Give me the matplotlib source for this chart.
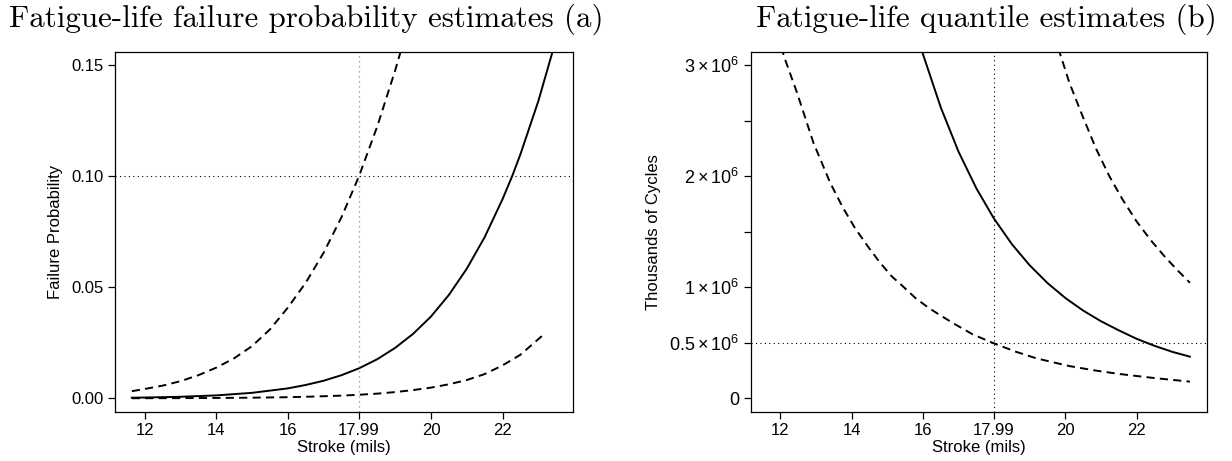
import matplotlib
matplotlib.use("Agg")
from matplotlib import pyplot as plt
import numpy as np

plt.rcParams['font.family'] = ['Liberation Sans', 'DejaVu Sans']
plt.rcParams['mathtext.fontset'] = 'custom'
plt.rcParams['mathtext.rm'] = 'Liberation Sans'
plt.rcParams['mathtext.it'] = 'Liberation Sans:italic'

# panel (a): failure probability vs stroke
a_mid_x = [11.64, 12.0, 13.0, 14.0, 15.0, 16.0, 16.5, 17.0, 17.5, 17.99, 18.5, 19.0, 19.5,
           20.0, 20.5, 21.0, 21.5, 22.0, 22.27, 22.5, 23.0, 23.47]
a_mid_y = [0.00027, 0.00035, 0.00068, 0.00131, 0.00246, 0.00446, 0.0060, 0.0079, 0.0104, 0.0135,
           0.0176, 0.0227, 0.0290, 0.0368, 0.0465, 0.0583, 0.0725, 0.0896, 0.1000, 0.1098, 0.1337, 0.1600]
a_up_x = [11.64, 12.0, 12.5, 13.0, 13.5, 14.0, 14.5, 15.0, 15.5, 16.0, 16.5, 17.0, 17.5,
          17.99, 18.5, 19.0, 19.2]
a_up_y = [0.0032, 0.0042, 0.0057, 0.0077, 0.0104, 0.0138, 0.0180, 0.0235, 0.0310, 0.0408, 0.0520,
          0.0655, 0.0815, 0.1000, 0.1224, 0.1476, 0.1587]
a_lo_x = [11.64, 12.0, 13.0, 14.0, 15.0, 16.0, 16.5, 17.0, 17.5, 17.99, 18.5, 19.0, 19.5, 20.0,
          20.5, 21.0, 21.5, 22.0, 22.5, 23.1]
a_lo_y = [0.00003, 0.00004, 0.00008, 0.00015, 0.00028, 0.0005, 0.00068, 0.00093, 0.0012, 0.0016,
          0.0021, 0.0028, 0.0037, 0.0048, 0.0063, 0.0082, 0.0109, 0.0148, 0.0196, 0.0280]

# panel (b): quantile (thousands of cycles) vs stroke, in millions
b_mid_x = [15.9, 16.0, 16.5, 17.0, 17.5, 17.99, 18.5, 19.0, 19.5, 20.0, 20.5, 21.0, 21.5,
           22.0, 22.5, 23.0, 23.49]
b_mid_y = [3.22, 3.10, 2.62, 2.22, 1.89, 1.62, 1.386, 1.196, 1.036, 0.902, 0.789, 0.693, 0.611,
           0.535, 0.472, 0.418, 0.375]
b_lo_x = [11.9, 12.09, 12.47, 12.93, 13.4, 13.75, 14.1, 14.45, 14.8, 15.12, 15.45, 15.8, 16.18,
          16.5, 16.85, 17.4, 17.99, 18.6, 19.18, 20.11, 20.8, 21.51, 22.5, 23.49]
b_lo_y = [3.40, 3.09, 2.75, 2.30, 1.94, 1.72, 1.53, 1.37, 1.22, 1.10, 1.005, 0.90, 0.81,
          0.745, 0.676, 0.575, 0.495, 0.42, 0.36, 0.29, 0.252, 0.219, 0.182, 0.150]
b_up_x = [19.8, 20.11, 20.48, 20.86, 21.23, 21.6, 22.0, 22.4, 22.8, 23.15, 23.49]
b_up_y = [3.15, 2.84, 2.54, 2.245, 2.0, 1.79, 1.59, 1.42, 1.27, 1.15, 1.04]

x_ticks = [12, 14, 16, 17.99, 20, 22]
x_labels = ['12', '14', '16', '17.99', '20', '22']
a_yticks = [0.0, 0.05, 0.10, 0.15]
a_ylabels = ['0.00', '0.05', '0.10', '0.15']
b_yticks = [0, 0.5e6, 1e6, 1.5e6, 2e6, 2.5e6, 3e6]
b_ylabels = ['0', r'$0.5\times10^6$', r'$1\times10^6$', '', r'$2\times10^6$', '', r'$3\times10^6$']

fig = plt.figure(figsize=(12.32, 4.61), dpi=100)
ax1 = fig.add_axes([115/1232, 1-412.3/461, 458/1232, 360.6/461])
ax2 = fig.add_axes([750.7/1232, 1-412.3/461, 456.3/1232, 360.6/461])

dash = (4.2, 2.7)
dot = (1, 3)
lw = 1.4

ax1.plot(a_mid_x, a_mid_y, color='black', lw=lw)
ax1.plot(a_up_x, a_up_y, color='black', lw=lw, dashes=dash)
ax1.plot(a_lo_x, a_lo_y, color='black', lw=lw, dashes=dash)
ax1.axhline(0.10, color='black', lw=0.8, dashes=dot)
ax1.axvline(17.99, color='#888888', lw=0.9, dashes=dot)
ax1.set_ylim(-0.0063, 0.156)
ax1.set_yticks(a_yticks)
ax1.set_yticklabels(a_ylabels)
ax1.set_ylabel('Failure Probability', fontsize=12, labelpad=6)

ax2.plot(b_mid_x, np.array(b_mid_y)*1e6, color='black', lw=lw)
ax2.plot(b_lo_x, np.array(b_lo_y)*1e6, color='black', lw=lw, dashes=dash)
ax2.plot(b_up_x, np.array(b_up_y)*1e6, color='black', lw=lw, dashes=dash)
ax2.axhline(0.5e6, color='black', lw=0.8, dashes=dot)
ax2.axvline(17.99, color='black', lw=0.8, dashes=dot)
ax2.set_ylim(-0.126e6, 3.12e6)
ax2.set_yticks(b_yticks)
ax2.set_yticklabels(b_ylabels)
ax2.set_ylabel('Thousands of Cycles', fontsize=12, labelpad=6)

for ax in (ax1, ax2):
    ax.set_xlim(11.17, 23.97)
    ax.set_xticks(x_ticks)
    ax.set_xticklabels(x_labels)
    ax.set_xlabel('Stroke (mils)', fontsize=12, labelpad=1)
    ax.tick_params(direction='out', length=5, width=0.9, labelsize=12, pad=3)
    for s in ax.spines.values():
        s.set_linewidth(0.9)
for t in ax2.get_yticklabels():
    t.set_fontsize(13)

fig.text(9/1232, 1-27/461, 'Fatigue-life failure probability estimates (a)',
         fontfamily='cmr10', fontsize=22.3, ha='left', va='baseline')
fig.text(1217/1232, 1-27/461, 'Fatigue-life quantile estimates (b)',
         fontfamily='cmr10', fontsize=22.3, ha='right', va='baseline')

fig.savefig('out.png', dpi=100)
